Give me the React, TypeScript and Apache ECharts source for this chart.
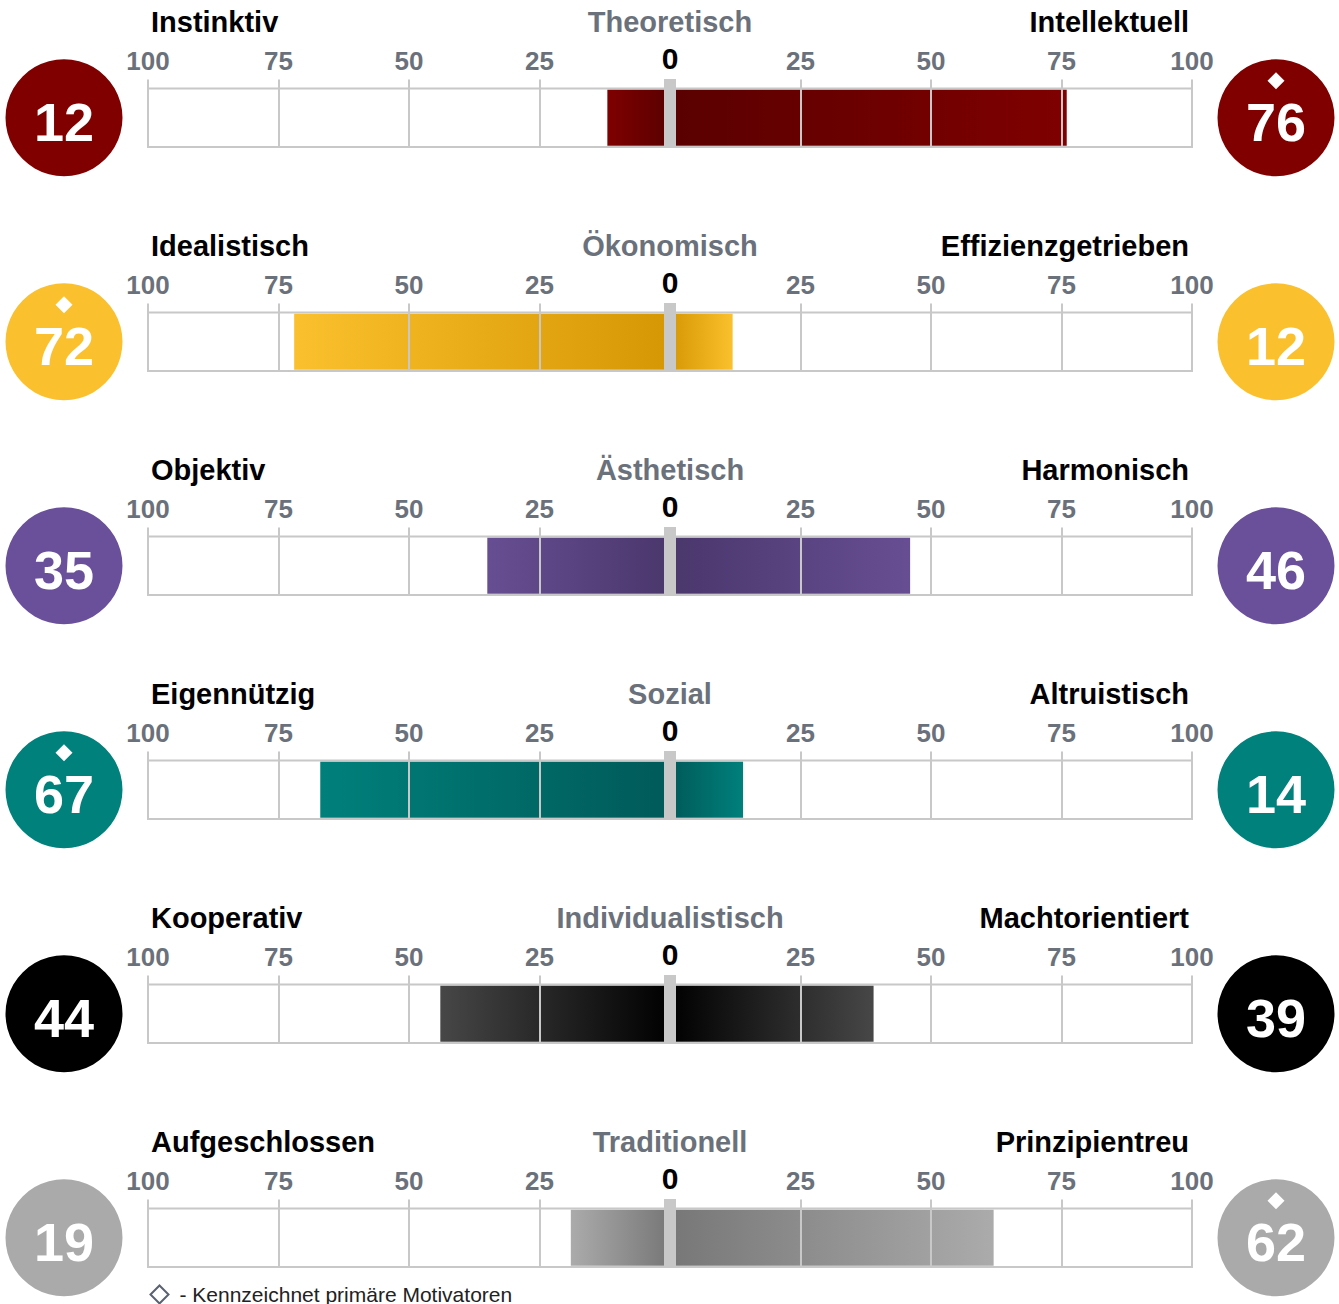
import React, { useEffect, useRef } from "react";
import * as echarts from "echarts";

const WIDTH = 1339;
const HEIGHT = 1304;

// ---- data ----
const leftLabels = ["Instinktiv", "Idealistisch", "Objektiv", "Eigennützig", "Kooperativ", "Aufgeschlossen"];
const centerLabels = ["Theoretisch", "Ökonomisch", "Ästhetisch", "Sozial", "Individualistisch", "Traditionell"];
const rightLabels = ["Intellektuell", "Effizienzgetrieben", "Harmonisch", "Altruistisch", "Machtorientiert", "Prinzipientreu"];
const leftScores = [12, 72, 35, 67, 44, 19];
const rightScores = [76, 12, 46, 14, 39, 62];
const primarySide: (string | null)[] = ["right", "left", null, "left", null, "right"];
const axisMin = -100;
const axisMax = 100;
const axisInterval = 25;
const legendText = "- Kennzeichnet primäre Motivatoren";

// ---- styles ----
const circleColors = ["#800000", "#fbc02d", "#6a509a", "#00817c", "#000000", "#aaaaaa"];
const outerColors = ["#7f0000", "#fbc02d", "#674e93", "#00807b", "#474747", "#ababab"];
const innerColors = ["#5a0000", "#d69704", "#4a376b", "#005a59", "#000000", "#777777"];

const FONT = "'Liberation Sans', Arial, Helvetica, sans-serif";
const GRID_LEFT = 148;
const GRID_WIDTH = 1044;
const GRID_TOP0 = 88.5;
const ROW_STEP = 224;
const GRID_H = 58.5;
const LINE = "#c8c8c8";
const GRAY_TEXT = "#6b717a";

function buildOption() {
  const grid: any[] = [];
  const xAxis: any[] = [];
  const yAxis: any[] = [];
  const series: any[] = [];
  const graphic: any[] = [];

  leftScores.forEach((_, i) => {
    const top = GRID_TOP0 + ROW_STEP * i;
    grid.push({
      left: GRID_LEFT,
      width: GRID_WIDTH,
      top,
      height: GRID_H,
      show: true,
      borderColor: LINE,
      borderWidth: 2,
      backgroundColor: "#fff",
    });
    xAxis.push({
      gridIndex: i,
      type: "value",
      min: axisMin,
      max: axisMax,
      interval: axisInterval,
      position: "top",
      z: 5,
      axisLine: { show: false },
      axisTick: { show: true, length: 9, lineStyle: { color: LINE, width: 2 } },
      splitLine: { show: true, lineStyle: { color: LINE, width: 2 } },
      axisLabel: {
        margin: 15,
        fontFamily: FONT,
        fontSize: 26,
        fontWeight: "bold",
        color: GRAY_TEXT,
        formatter: (v: number) => (v === 0 ? "{z|0}" : String(Math.abs(v))),
        rich: {
          z: { fontFamily: FONT, fontSize: 30, fontWeight: "bold", color: "#000" },
        },
      },
    });
    yAxis.push({ gridIndex: i, type: "category", data: [centerLabels[i]], show: false });

    const leftGrad = new echarts.graphic.LinearGradient(0, 0, 1, 0, [
      { offset: 0, color: outerColors[i] },
      { offset: 1, color: innerColors[i] },
    ]);
    const rightGrad = new echarts.graphic.LinearGradient(0, 0, 1, 0, [
      { offset: 0, color: innerColors[i] },
      { offset: 1, color: outerColors[i] },
    ]);
    series.push({
      type: "bar",
      name: leftLabels[i],
      xAxisIndex: i,
      yAxisIndex: i,
      data: [-leftScores[i]],
      barWidth: 56,
      barGap: "-100%",
      itemStyle: { color: leftGrad },
      silent: true,
      z: 2,
    });
    series.push({
      type: "bar",
      name: rightLabels[i],
      xAxisIndex: i,
      yAxisIndex: i,
      data: [rightScores[i]],
      barWidth: 56,
      barGap: "-100%",
      itemStyle: { color: rightGrad },
      silent: true,
      z: 2,
    });
    // centre marker at zero
    series.push({
      type: "custom",
      xAxisIndex: i,
      yAxisIndex: i,
      data: [[0, 0]],
      z: 6,
      silent: true,
      renderItem: (params: any, api: any) => {
        const p = api.coord([api.value(0), api.value(1)]);
        const cs = params.coordSys;
        return {
          type: "rect",
          shape: { x: p[0] - 6, y: cs.y - 9.5, width: 12, height: cs.height + 10 },
          style: { fill: LINE },
        };
      },
    });
    // score circles
    series.push({
      type: "scatter",
      xAxisIndex: i,
      yAxisIndex: i,
      clip: false,
      silent: true,
      z: 7,
      symbol: "circle",
      symbolSize: 117,
      itemStyle: { color: circleColors[i], opacity: 1 },
      label: {
        show: true,
        position: "inside",
        offset: [0, 4],
        fontFamily: FONT,
        fontSize: 54,
        fontWeight: "bold",
        color: "#fff",
        formatter: (p: any) => String(p.value[2]),
      },
      data: [
        { value: [axisMin, 0, leftScores[i]], symbolOffset: [-84, 0] },
        { value: [axisMax, 0, rightScores[i]], symbolOffset: [84, 0] },
      ],
    });
    if (primarySide[i]) {
      const isLeft = primarySide[i] === "left";
      series.push({
        type: "scatter",
        xAxisIndex: i,
        yAxisIndex: i,
        clip: false,
        silent: true,
        z: 8,
        symbol: "diamond",
        symbolSize: [17, 17],
        itemStyle: { color: "#fff", opacity: 1 },
        data: [
          {
            value: [isLeft ? axisMin : axisMax, 0],
            symbolOffset: [isLeft ? -84 : 84, -37],
          },
        ],
      });
    }

    const titleY = top - 66.5;
    graphic.push(
      {
        type: "text",
        x: GRID_LEFT + 3,
        y: titleY,
        style: {
          text: leftLabels[i],
          fontFamily: FONT,
          fontSize: 29,
          fontWeight: "bold",
          fill: "#000",
          align: "left",
          verticalAlign: "middle",
        },
      },
      {
        type: "text",
        x: GRID_LEFT + GRID_WIDTH / 2,
        y: titleY,
        style: {
          text: centerLabels[i],
          fontFamily: FONT,
          fontSize: 29,
          fontWeight: "bold",
          fill: GRAY_TEXT,
          align: "center",
          verticalAlign: "middle",
        },
      },
      {
        type: "text",
        x: GRID_LEFT + GRID_WIDTH - 3,
        y: titleY,
        style: {
          text: rightLabels[i],
          fontFamily: FONT,
          fontSize: 29,
          fontWeight: "bold",
          fill: "#000",
          align: "right",
          verticalAlign: "middle",
        },
      }
    );
  });

  // legend note
  graphic.push({
    type: "group",
    left: 148,
    top: 1283,
    children: [
      {
        type: "polygon",
        shape: { points: [[10, 1], [19, 10], [10, 19], [1, 10]] },
        style: { fill: "none", stroke: "#5a6270", lineWidth: 2 },
      },
      {
        type: "text",
        x: 30,
        y: 9.5,
        style: {
          text: legendText,
          fontFamily: FONT,
          fontSize: 21,
          fill: "#222",
          align: "left",
          verticalAlign: "middle",
        },
      },
    ],
  });

  return {
    animation: false,
    backgroundColor: "#fff",
    grid,
    xAxis,
    yAxis,
    series,
    graphic,
  };
}

export default function App() {
  const ref = useRef<HTMLDivElement>(null);
  useEffect(() => {
    document.body.style.margin = "0";
    const chart = echarts.init(ref.current!, null, { renderer: "svg" });
    chart.setOption(buildOption() as any);
    return () => chart.dispose();
  }, []);
  return <div ref={ref} style={{ width: WIDTH, height: HEIGHT }} />;
}
